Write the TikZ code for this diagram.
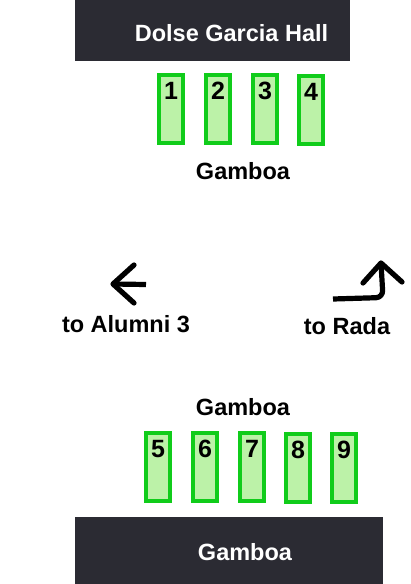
\documentclass[tikz,border=0pt]{standalone}
\usepackage{fontspec}
\setmainfont{Liberation Sans}
\definecolor{barcol}{HTML}{2B2B33}
\definecolor{slotedge}{HTML}{10CC1A}
\definecolor{slotfill}{HTML}{BCF2A8}
\tikzset{
  bar/.style={fill=barcol,draw=none},
  slot/.style={fill=slotfill,draw=slotedge,line width=3.8pt},
  lbl/.style={font=\fontsize{23.5}{25}\selectfont\bfseries,inner sep=0pt,anchor=base},
  barlbl/.style={lbl,text=white},
  numlbl/.style={lbl,font=\fontsize{25}{27}\selectfont\bfseries},
  arrowline/.style={line width=5.2pt,line cap=round,line join=round,black}
}
\begin{document}
\begin{tikzpicture}[x=1pt,y=-1pt]
\useasboundingbox (0,0) rectangle (411,584);
\fill[bar] (75,0) rectangle (350,61);
\node[barlbl] (hall) at (231.5,41) {Dolse Garcia Hall};
\fill[bar] (75,517) rectangle (383,584);
\node[barlbl] (gbot) at (245,560) {Gamboa};
\foreach \n/\x/\y in {1/157/73,2/204/73,3/251/73,4/297/74,5/144/431,6/191/431,7/238/431,8/284/432,9/330/432}{
  \draw[slot] (\x+1.9,\y+1.9) rectangle (\x+26.1,\y+70.1);
  \node[numlbl] (n\n) at (\x+14,\y+26) {\n};
}
\node[lbl] (g1) at (243,179) {Gamboa};
\node[lbl] (g2) at (243,415) {Gamboa};
\node[lbl] (alumni) at (126,332.5) {to Alumni 3};
\node[lbl] (rada) at (347,334.5) {to Rada};
\coordinate (la) at (146,284.5);
\coordinate (lt) at (113,284);
\coordinate (lh1) at (134,265);
\coordinate (lh2) at (134,303);
\draw[arrowline,line cap=butt] (la) -- (lt);
\draw[arrowline] (lh1) -- (lt) -- (lh2);
\coordinate (ra) at (333,299);
\coordinate (rc) at (383,297.5);
\coordinate (rt) at (381,263);
\coordinate (rh1) at (363,283);
\coordinate (rh2) at (402,282);
\draw[arrowline,line cap=butt,rounded corners=7pt] (ra) -- (rc) -- (rt);
\draw[arrowline] (rh1) -- (rt) -- (rh2);
\end{tikzpicture}
\end{document}
